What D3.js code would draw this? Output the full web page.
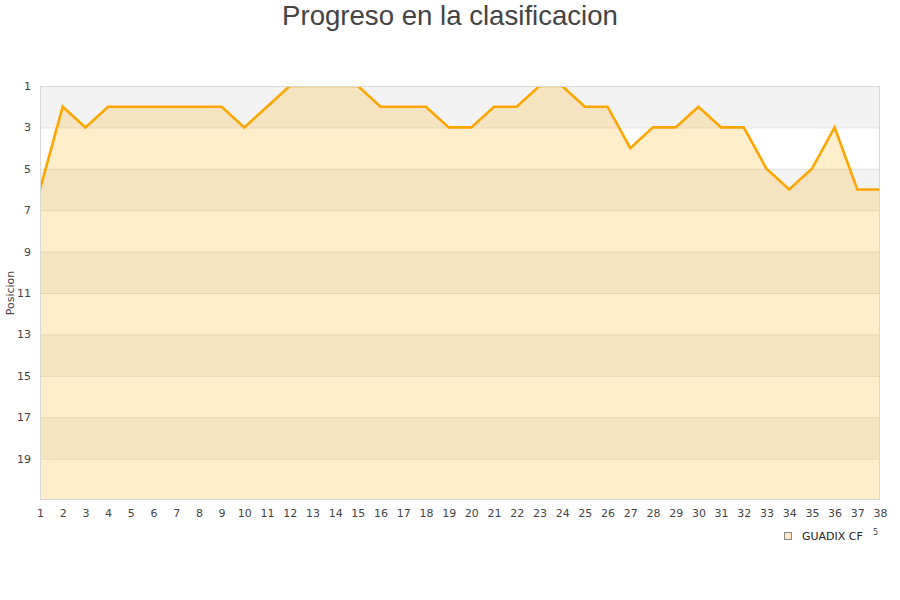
<!DOCTYPE html>
<html><head><meta charset="utf-8">
<script src="https://cdn.jsdelivr.net/npm/d3@7"></script>
<style>body{margin:0;background:#fff;font-family:"DejaVu Sans",sans-serif;}</style>
</head><body>
<svg id="c" width="900" height="600"></svg>
<script>
const title = "Progreso en la clasificacion";
const yLabel = "Posicion";
const seriesName = "GUADIX CF";
const jornadas = d3.range(1, 39);
const posiciones = [6,2,3,2,2,2,2,2,2,3,2,1,1,1,1,2,2,2,3,3,2,2,1,1,2,2,4,3,3,2,3,3,5,6,5,3,6,6];
const yTicks = [1,3,5,7,9,11,13,15,17,19];

const svg = d3.select("#c");
const L = 40, R = 880, T = 86, B = 500;
const x = d3.scaleLinear().domain([1, 38]).range([L, R]);
const y = d3.scaleLinear().domain([1, 21]).range([T, B]);

svg.append("text").attr("x", 450).attr("y", 25).attr("text-anchor", "middle")
  .attr("font-family", "'Liberation Sans', Arial, sans-serif").attr("font-size", 27.6)
  .attr("fill", "#444").text(title);

// bands
const bands = d3.range(1, 21, 2);
svg.append("g").selectAll("rect").data(bands).join("rect")
  .attr("x", L).attr("width", R - L)
  .attr("y", d => y(d)).attr("height", d => y(d + 2) - y(d))
  .attr("fill", (d, i) => i % 2 === 0 ? "#f3f3f3" : "#ffffff");

// grid
svg.append("g").selectAll("line").data(yTicks.slice(1)).join("line")
  .attr("x1", L).attr("x2", R).attr("y1", d => y(d) + 0.5).attr("y2", d => y(d) + 0.5)
  .attr("stroke", "#e2e2e2").attr("stroke-width", 1);

svg.append("clipPath").attr("id", "clip").append("rect")
  .attr("x", L).attr("y", T).attr("width", R - L).attr("height", B - T);

const data = jornadas.map((j, i) => ({j, p: posiciones[i]}));
const g = svg.append("g").attr("clip-path", "url(#clip)");
g.append("path").datum(data)
  .attr("d", d3.area().x(d => x(d.j)).y0(B).y1(d => y(d.p)))
  .attr("fill", "orange").attr("fill-opacity", 0.2);
g.append("path").datum(data)
  .attr("d", d3.line().x(d => x(d.j)).y(d => y(d.p)))
  .attr("fill", "none").attr("stroke", "#ffa500").attr("stroke-width", 2.6)
  .attr("stroke-linejoin", "miter");

// border
svg.append("rect").attr("x", L + 0.5).attr("y", T + 0.5).attr("width", R - L - 1).attr("height", B - T - 1)
  .attr("fill", "none").attr("stroke", "#d8d8d8");

// axes
const yAxis = d3.axisLeft(y).tickValues(yTicks).tickSize(0).tickPadding(9);
const ya = svg.append("g").attr("transform", `translate(${L},0)`).call(yAxis);
ya.select(".domain").remove();
ya.selectAll("text").attr("font-size", 11).attr("fill", "#444").attr("font-family", "'DejaVu Sans', sans-serif");

const xAxis = d3.axisBottom(x).tickValues(jornadas).tickSize(0).tickPadding(9);
const xa = svg.append("g").attr("transform", `translate(0,${B})`).call(xAxis);
xa.select(".domain").remove();
xa.selectAll("text").attr("font-size", 11).attr("fill", "#444").attr("font-family", "'DejaVu Sans', sans-serif");

svg.append("text").attr("transform", "translate(14,293) rotate(-90)").attr("text-anchor", "middle")
  .attr("font-size", 11).attr("fill", "#444").text(yLabel);

// legend
svg.append("rect").attr("x", 784.5).attr("y", 532.5).attr("width", 7).attr("height", 7)
  .attr("fill", "#fde9c6").attr("stroke", "#888");
svg.append("text").attr("x", 802).attr("y", 540).attr("font-size", 11).attr("fill", "#222").text(seriesName);
svg.append("text").attr("x", 873).attr("y", 535).attr("font-size", 8).attr("fill", "#444").text("5");
</script>
</body></html>
